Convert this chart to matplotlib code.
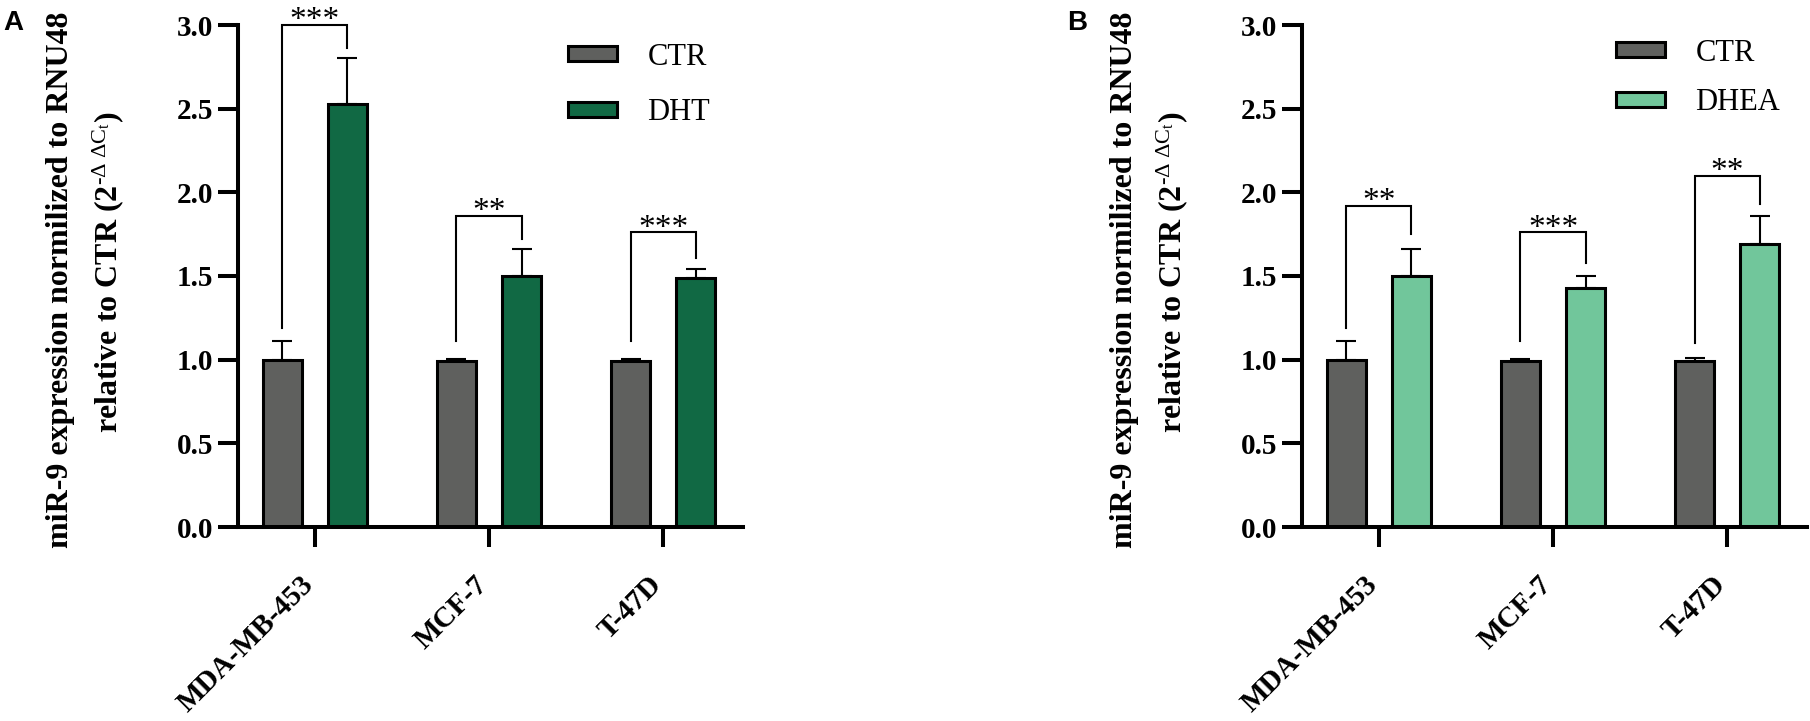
import numpy as np
import matplotlib
matplotlib.use('Agg')
import matplotlib.pyplot as plt
from matplotlib.patches import Patch

plt.rcParams['font.family'] = ['Liberation Serif', 'DejaVu Serif']
plt.rcParams['mathtext.fontset'] = 'custom'
plt.rcParams['mathtext.rm'] = 'Liberation Serif'
plt.rcParams['mathtext.it'] = 'Liberation Serif:italic'
plt.rcParams['mathtext.bf'] = 'Liberation Serif:bold'

# data
cells = ['MDA-MB-453', 'MCF-7', 'T-47D']
yticks = [0.0, 0.5, 1.0, 1.5, 2.0, 2.5, 3.0]

ctr_a = [1.00, 0.995, 0.995]
ctr_a_err = [0.11, 0.01, 0.01]
dht = [2.53, 1.50, 1.49]
dht_err = [0.27, 0.16, 0.05]
stars_a = ['***', '**', '***']
# (bracket top, left leg end, right leg end)
brackets_a = [(3.00, 1.19, 2.86), (1.86, 1.11, 1.72), (1.76, 1.11, 1.61)]

ctr_b = [1.00, 0.99, 0.99]
ctr_b_err = [0.11, 0.015, 0.02]
dhea = [1.50, 1.43, 1.69]
dhea_err = [0.16, 0.07, 0.17]
stars_b = ['**', '***', '**']
brackets_b = [(1.92, 1.19, 1.75), (1.76, 1.11, 1.58), (2.10, 1.10, 1.93)]

GRAY = '#5f605e'
DARK_GREEN = '#116944'
LIGHT_GREEN = '#71c69b'

W, H = 1810, 721
fig = plt.figure(figsize=(W / 100, H / 100), dpi=100)


def panel(left_px, ctr, ctr_err, trt, trt_err, trt_name, trt_color,
          stars, brackets, leg_xy, leg_space, letter):
    ax = fig.add_axes([left_px / W, 1 - 527 / H, 505 / W, 502 / H])
    x = np.arange(len(cells))
    off = 0.187
    w = 0.224
    ekw = dict(elinewidth=1.5, capthick=1.5, ecolor='black')
    ax.bar(x - off, ctr, width=w, color=GRAY, edgecolor='black', linewidth=2.2,
           yerr=[np.zeros(len(ctr)), ctr_err], capsize=7.5, error_kw=ekw)
    ax.bar(x + off, trt, width=w, color=trt_color, edgecolor='black', linewidth=2.2,
           yerr=[np.zeros(len(trt)), trt_err], capsize=7.5, error_kw=ekw)

    for i, (top, yl, yr) in enumerate(brackets):
        x0, x1 = i - off, i + off
        ax.plot([x0, x0, x1, x1], [yl, top, top, yr], color='black', lw=1.5,
                clip_on=False, solid_joinstyle='miter')
        ax.annotate(stars[i], xy=(i, top), xytext=(0, -3), textcoords='offset points',
                    ha='center', va='baseline', fontsize=24, annotation_clip=False)

    ax.set_xlim(-0.442, 2.459)
    ax.set_ylim(0, 3)
    ax.set_yticks(yticks)
    ax.set_yticklabels([f'{v:.1f}' for v in yticks], fontweight='bold', fontsize=21)
    ax.set_xticks(x)
    ax.set_xticklabels(cells, fontweight='bold', fontsize=21, rotation=45,
                       ha='right', va='baseline', rotation_mode='anchor')
    ax.tick_params(axis='both', width=2.9, length=14.4, direction='out')
    ax.tick_params(axis='y', pad=3.6)
    ax.tick_params(axis='x', pad=28)
    for s in ['top', 'right']:
        ax.spines[s].set_visible(False)
    for s in ['left', 'bottom']:
        ax.spines[s].set_linewidth(2.9)

    handles = [Patch(facecolor=GRAY, edgecolor='black', lw=2.2, label='CTR'),
               Patch(facecolor=trt_color, edgecolor='black', lw=2.2, label=trt_name)]
    ax.legend(handles=handles, loc='upper left', bbox_to_anchor=leg_xy, frameon=False,
              fontsize=22, handlelength=1.6, handleheight=0.38, handletextpad=1.0,
              labelspacing=leg_space, borderpad=0, borderaxespad=0)

    # two-line y label
    fig.text((left_px - 170) / W, 1 - 280 / H, 'miR-9 expression normilized to RNU48',
             rotation=90, rotation_mode='anchor', ha='center', va='baseline',
             fontsize=23, fontweight='bold')
    fig.text((left_px - 121) / W, 1 - 272 / H,
             r'relative to CTR (2$^{\text{-}\Delta\ \Delta \mathrm{C}_\mathrm{t}}$)',
             rotation=90, rotation_mode='anchor', ha='center', va='baseline',
             fontsize=23, fontweight='bold')

    fig.text((left_px - 235) / W, 1 - 10 / H, letter, ha='left', va='top',
             fontsize=20, fontweight='bold', family='Liberation Sans')
    return ax


panel(238, ctr_a, ctr_a_err, dht, dht_err, 'DHT', DARK_GREEN, stars_a, brackets_a,
      (0.6535, 0.965), 0.88, 'A')
panel(1302, ctr_b, ctr_b_err, dhea, dhea_err, 'DHEA', LIGHT_GREEN, stars_b, brackets_b,
      (0.622, 0.973), 0.68, 'B')

fig.savefig('out.png', dpi=100)
